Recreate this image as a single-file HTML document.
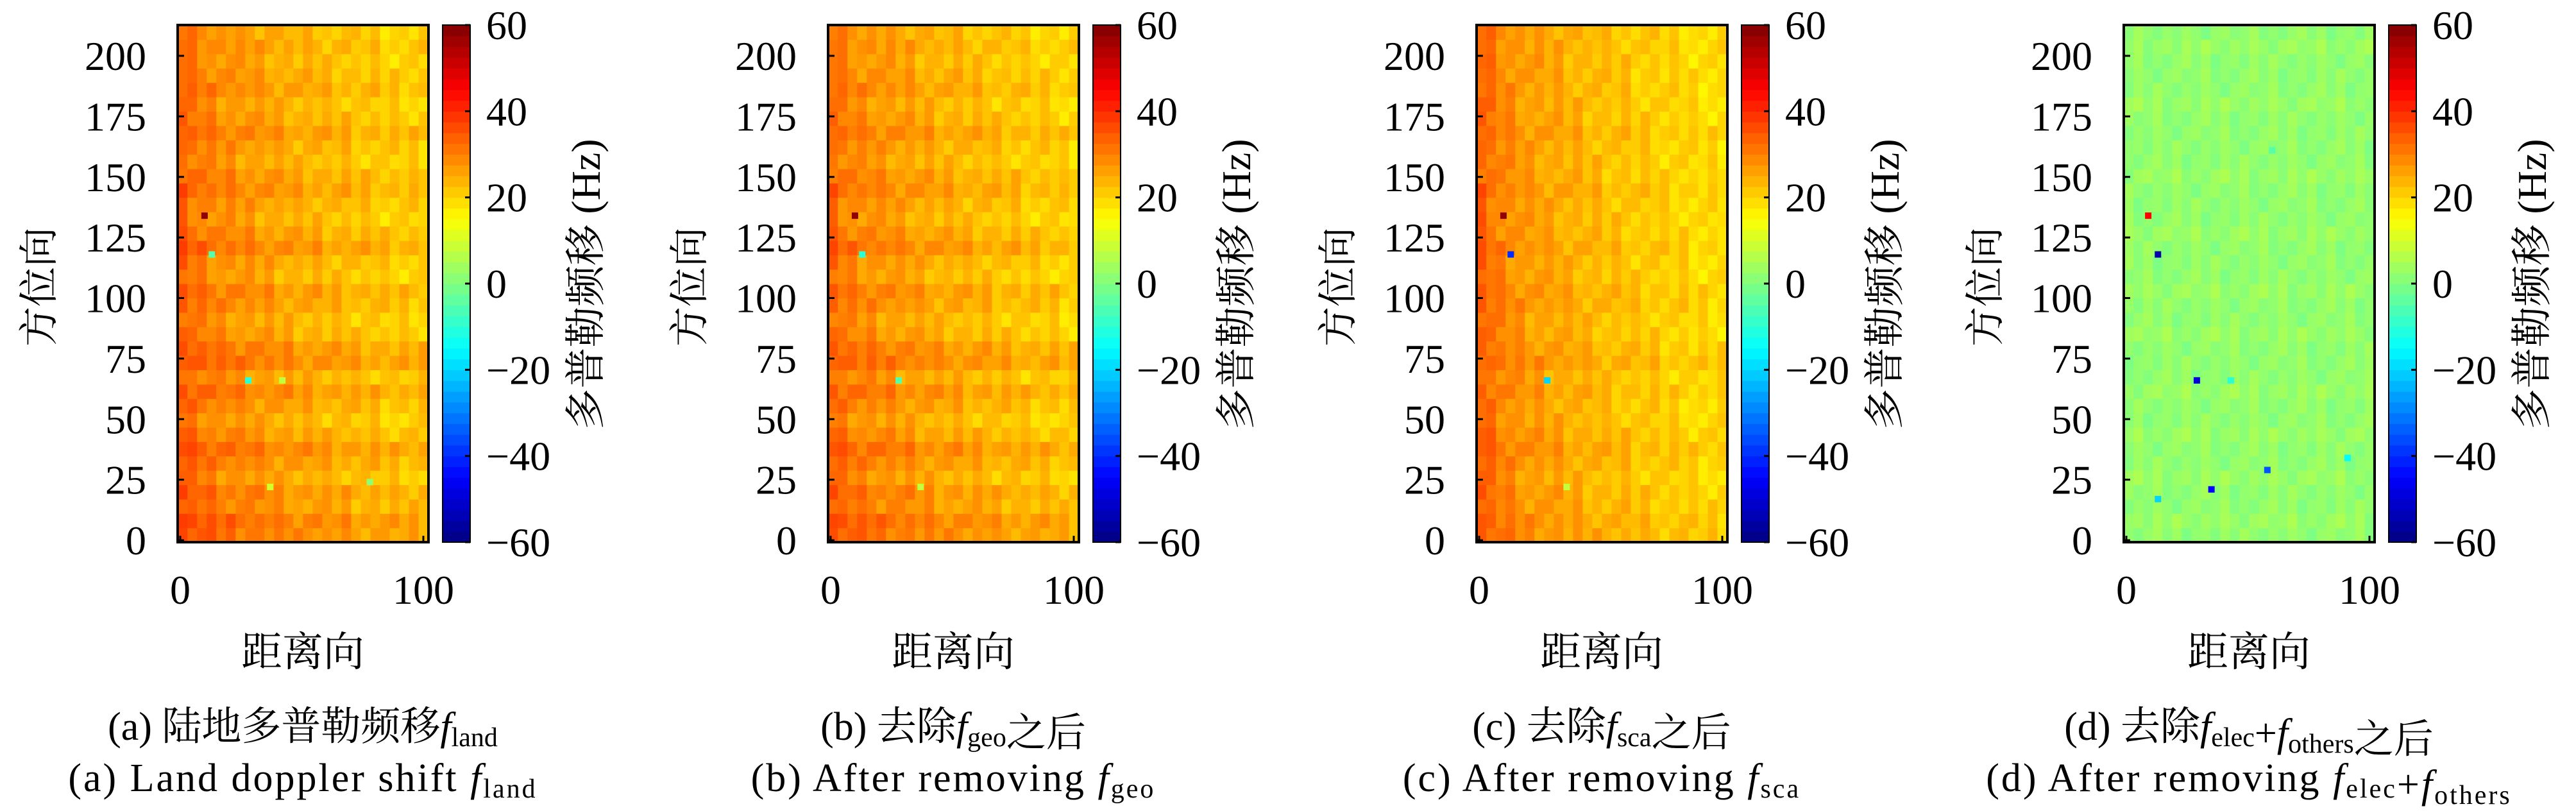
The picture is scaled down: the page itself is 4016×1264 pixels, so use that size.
<!DOCTYPE html>
<html><head><meta charset="utf-8"><style>
html,body{margin:0;padding:0;background:#fff;}
svg{display:block;}
text{font-family:"Liberation Serif","Noto Serif CJK SC",serif;fill:#000;}
.cjk{font-family:"Liberation Serif","Noto Serif CJK SC","Noto Sans CJK SC",serif;}
</style></head><body>
<svg id="fig" width="4016" height="1264" viewBox="0 0 4016 1264" xmlns="http://www.w3.org/2000/svg"></svg>
<script>
// ---- data ----
const panelOffsets = [0, 1014, 2025, 3034];
const colorbarTicks = [60, 40, 20, 0, -20, -40, -60];
const yTicks = [0, 25, 50, 75, 100, 125, 150, 175, 200];
const xTicks = [0, 100];
// row band offsets (36 bands bottom->top, ~6 units each)
const rowBandsA = [6,7,4,5,2,4,6,3,1,3,5,2,6,5,2,1,3,4,1,2,5,3,1,2,4,3,1,2,4,2,1,3,2,1,2,1];
const rowBandsB = [6,7,4,5,2,4,6,3,1,3,5,2,6,5,2,1,3,4,1,2,5,3,1,2,4,3,1,2,4,2,1,3,2,1,2,1];
const rowBandsC = [3,3,2,2,1,2,3,2,1,1,2,1,3,2,1,1,2,2,1,1,2,1,1,1,2,1,1,1,2,1,1,1,1,1,1,1];
const rowBandsD = [0,1,0,0,1,0,0,1,0,0,1,0,0,0,1,0,0,1,0,0,0,1,0,0,0,1,0,0,0,0,1,0,0,0,1,0];
// column trend (26 columns left->right, Hz)
const colTrendA = [31,29,28,27,26,26,25,25,24,24,23,23,22,22,22,21,21,21,20,20,20,19,19,19,19,19];
const colTrendB = [30,28,27,26,26,25,25,24,24,23,23,22,22,22,21,21,21,20,20,20,19,19,19,19,18,18];
const colTrendC = [32,30,28,27,26,25,25,24,24,23,23,22,22,21,21,21,20,20,20,19,19,19,18,18,18,18];
const colTrendD = [2,2,2,2,2,2,2,2,2,2,2,2,2,2,2,2,2,2,2,2,2,2,2,2,2,2];
const texture = [0,-2,1,3,-1,2,-3,0,1,-2,2,-1,3,0,-2,1,-1,2,0,-3,1,2,-1,0,3,-2];
// outlier pixels: [x, y, value]
const outliersA = [[10,134,58],[13,118,-5],[28,66,-10],[42,66,8],[37,22,10],[78,24,2]];
const outliersB = [[10,134,58],[13,118,-10],[28,66,-5],[37,22,8]];
const outliersC = [[10,134,58],[13,118,-40],[28,66,-20],[36,22,8]];
const outliersD = [[9,134,45],[13,118,-55],[29,66,-50],[43,66,-10],[35,21,-45],[58,29,-35],[91,34,-15],[60,161,-5],[13,17,-20]];
const captions1 = [["(a) 陆地多普勒频移","land"],["(b) 去除","geo","之后"],["(c) 去除","sca","之后"],["(d) 去除","elec","+","others","之后"]];

const panels = [
 {rows:rowBandsA, cols:colTrendA, out:outliersA},
 {rows:rowBandsB, cols:colTrendB, out:outliersB},
 {rows:rowBandsC, cols:colTrendC, out:outliersC},
 {rows:rowBandsD, cols:colTrendD, out:outliersD}
];

const NS="http://www.w3.org/2000/svg";
const svg=document.getElementById('fig');
function mk(tag, attrs, parent){const e=document.createElementNS(NS,tag);for(const k in attrs)e.setAttribute(k,attrs[k]);(parent||svg).appendChild(e);return e;}
function jet(v){let t=(v+60)/120;t=Math.max(0,Math.min(1,t));
 const c=x=>Math.round(255*Math.max(0,Math.min(1,x)));
 return `rgb(${c(1.5-Math.abs(4*t-3))},${c(1.5-Math.abs(4*t-2))},${c(1.5-Math.abs(4*t-1))})`;}

const HX0=277,HX1=668,HY0=39,HY1=845;
const X=v=>281+v*3.79;
const Y=v=>842-v*3.775;
const XMIN=-1,XMAX=102,YMIN=-0.8,YMAX=212.7;
const CBY=v=>HY1-(v+60)/120*(HY1-HY0);

panels.forEach((p,pi)=>{
 const ox=panelOffsets[pi];
 const g=mk('g',{transform:`translate(${ox},0)`});
 
 
 const hm=mk('g',{},g);
 
 
 const nr=p.rows.length,nc=p.cols.length;
 const rh=(YMAX-YMIN)/nr,cw=(XMAX-XMIN)/nc;
 for(let r=0;r<nr;r++)for(let c=0;c<nc;c++){
  const v=p.cols[c]+p.rows[r]+texture[(r*7+c)%texture.length]*(pi==3?0.8:1);
  const x0=X(XMIN+c*cw),x1=X(XMIN+(c+1)*cw),y0=Y(YMIN+(r+1)*rh),y1=Y(YMIN+r*rh);
  const cell=mk('rect',{x:x0,y:y0,width:x1-x0+0.6,height:y1-y0+0.6,fill:jet(v)},hm);
  
  
 }
 p.out.forEach(o=>{
  const d=mk('rect',{x:X(o[0])-5,y:Y(o[1])-5,width:10,height:10,fill:jet(o[2])},hm);
  
  
 });
 const fr=mk('rect',{x:HX0,y:HY0,width:HX1-HX0,height:HY1-HY0,fill:'none',stroke:'#000','stroke-width':4},g);
 
 
 yTicks.forEach(t=>{
  mk('line',{x1:HX0,x2:HX0+10,y1:Y(t),y2:Y(t),stroke:'#000','stroke-width':3},g);
  const tx=mk('text',{x:228,y:Y(t)+22,'font-size':64,'text-anchor':'end'},g);
  tx.textContent=t;
  
  
 });
 xTicks.forEach(t=>{
  mk('line',{x1:X(t),x2:X(t),y1:HY1,y2:HY1-10,stroke:'#000','stroke-width':3},g);
  const tx=mk('text',{x:X(t),y:941,'font-size':64,'text-anchor':'middle'},g);
  tx.textContent=t;
  
  
 });
 const cb=mk('g',{},g);
 
 
 for(let v=-60;v<60;v+=2.5){
  mk('rect',{x:690,y:CBY(v+2.5),width:43,height:CBY(v)-CBY(v+2.5)+0.6,fill:jet(v+1.25)},cb);
 }
 mk('rect',{x:690,y:HY0,width:43,height:HY1-HY0,fill:'none',stroke:'#000','stroke-width':2},cb);
 colorbarTicks.forEach(t=>{
  mk('line',{x1:725,x2:733,y1:CBY(t),y2:CBY(t),stroke:'#000','stroke-width':3},cb);
  const tx=mk('text',{x:758,y:CBY(t)+22,'font-size':64},cb);
  tx.textContent=t<0?'\u2212'+(-t):t;
  
  
 });
 const cl=mk('text',{x:0,y:0,'font-size':64,'text-anchor':'middle',class:'cjk',transform:'translate(935,443) rotate(-90)'},g);
 cl.textContent='多普勒频移 (Hz)';
 
 
 const yl=mk('text',{x:0,y:0,'font-size':62,'text-anchor':'middle',class:'cjk',transform:'translate(82,447) rotate(-90)'},g);
 yl.textContent='方位向';
 
 
 const xl=mk('text',{x:472,y:1038,'font-size':64,'text-anchor':'middle',class:'cjk'},g);
 xl.textContent='距离向';
 
 
 const c1=mk('text',{x:472,y:1153,'font-size':62,'text-anchor':'middle',class:'cjk'},g);
 
 
 const parts=captions1[pi];
 const addF=(parent,sub)=>{const f=mk('tspan',{'font-style':'italic'},parent);f.textContent='f';const s=mk('tspan',{'font-size':42,dy:10},parent);s.textContent=sub;const b=mk('tspan',{dy:-10},parent);b.textContent='';};
 if(pi==0){mk('tspan',{},c1).textContent=parts[0];addF(c1,parts[1]);}
 else if(pi<3){mk('tspan',{},c1).textContent=parts[0];addF(c1,parts[1]);mk('tspan',{},c1).textContent=parts[2];}
 else{mk('tspan',{},c1).textContent=parts[0];addF(c1,parts[1]);mk('tspan',{},c1).textContent=parts[2];addF(c1,parts[3]);mk('tspan',{},c1).textContent=parts[4];}
 const c2=mk('text',{x:472,y:1233,'font-size':62,'text-anchor':'middle','letter-spacing':3},g);
 
 
 const en=['(a) Land doppler shift ','(b) After removing ','(c) After removing ','(d) After removing '][pi];
 mk('tspan',{},c2).textContent=en;
 addF(c2,parts[1]);
 if(pi==3){mk('tspan',{},c2).textContent='+';addF(c2,'others');}
});
</script>
</body></html>
